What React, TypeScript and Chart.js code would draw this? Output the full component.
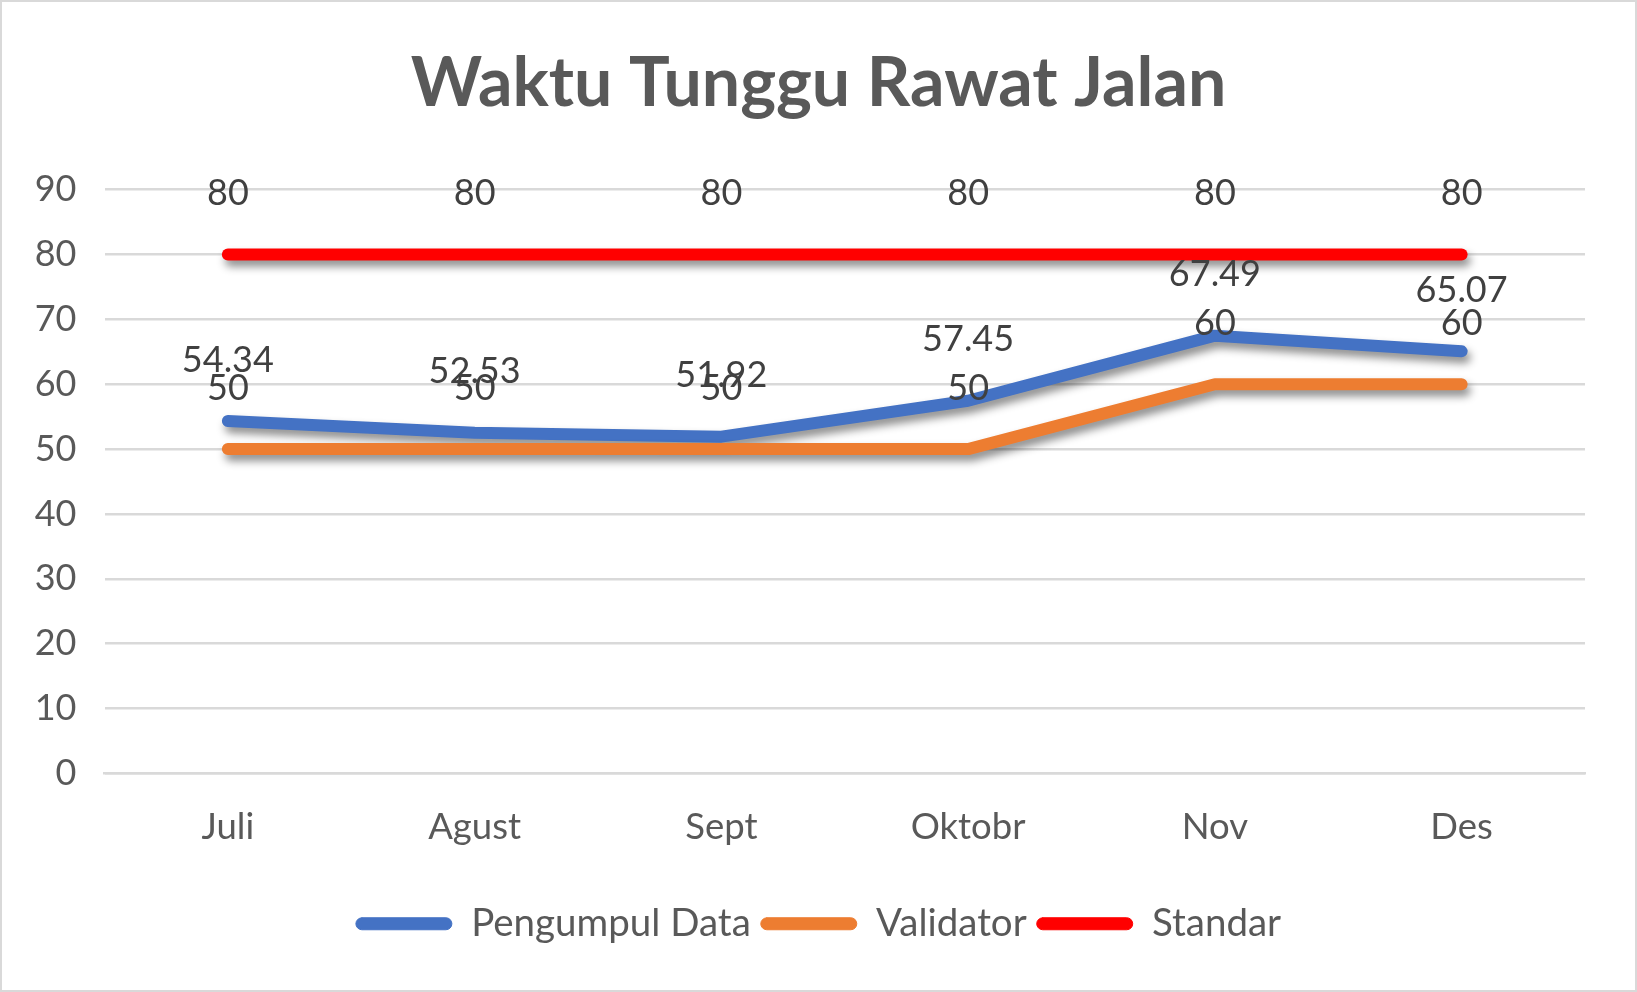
import { useEffect, useRef } from "react";
import { Chart, registerables } from "chart.js";

Chart.register(...registerables);

// data
const months = ["Juli", "Agust", "Sept", "Oktobr", "Nov", "Des"];
const pengumpulData = [54.34, 52.53, 51.92, 57.45, 67.49, 65.07];
const validator = [50, 50, 50, 50, 60, 60];
const standar = [80, 80, 80, 80, 80, 80];
const yMin = 0;
const yMax = 90;
const yStep = 10;

const FONT = "Lato, 'Open Sans', sans-serif";

// soft drop shadow under each line, like the office chart
const lineShadow = {
  id: "lineShadow",
  beforeDatasetDraw(chart: any) {
    const ctx = chart.ctx;
    ctx.save();
    ctx.shadowColor = "rgba(0,0,0,0.45)";
    ctx.shadowBlur = 9;
    ctx.shadowOffsetX = 3;
    ctx.shadowOffsetY = 6;
  },
  afterDatasetDraw(chart: any) {
    chart.ctx.restore();
  },
};

// value labels above every point
const valueLabels = {
  id: "valueLabels",
  afterDatasetsDraw(chart: any) {
    const ctx = chart.ctx;
    ctx.save();
    ctx.font = `36px ${FONT}`;
    ctx.fillStyle = "#404040";
    ctx.textAlign = "center";
    ctx.textBaseline = "middle";
    chart.data.datasets.forEach((ds: any, i: number) => {
      const meta = chart.getDatasetMeta(i);
      meta.data.forEach((pt: any, j: number) => {
        ctx.fillText(String(ds.data[j]), pt.x, pt.y - 61);
      });
    });
    ctx.restore();
  },
};

export default function App() {
  const canvasRef = useRef<HTMLCanvasElement | null>(null);

  useEffect(() => {
    document.body.style.margin = "0";
    if (!canvasRef.current) return;
    const ctx = canvasRef.current.getContext("2d");
    if (!ctx) return;

    const chart = new Chart(ctx, {
      type: "line",
      data: {
        labels: months,
        datasets: [
          {
            label: "Pengumpul Data",
            data: pengumpulData,
            borderColor: "#4472C4",
            backgroundColor: "#4472C4",
            order: 3,
          },
          {
            label: "Validator",
            data: validator,
            borderColor: "#ED7D31",
            backgroundColor: "#ED7D31",
            order: 2,
          },
          {
            label: "Standar",
            data: standar,
            borderColor: "#FF0000",
            backgroundColor: "#FF0000",
            order: 1,
          },
        ],
      },
      options: {
        responsive: false,
        animation: false,
        layout: { padding: { left: 0, right: 0, top: 0, bottom: 37 } },
        elements: {
          line: {
            borderWidth: 12,
            borderCapStyle: "round",
            borderJoinStyle: "round",
            tension: 0,
          },
          point: { radius: 0, hoverRadius: 0 },
        },
        plugins: {
          tooltip: { enabled: false },
          title: {
            display: true,
            text: "Waktu Tunggu Rawat Jalan",
            color: "#595959",
            font: { family: FONT, size: 68, weight: "bold", lineHeight: 1.2 },
            padding: { top: 41, bottom: 65 },
          },
          legend: {
            display: true,
            position: "bottom",
            labels: {
              color: "#595959",
              font: { family: FONT, size: 38.5 },
              boxWidth: 96,
              boxHeight: 12,
              padding: 10,
              useBorderRadius: true,
              borderRadius: 6,
              sort: (a: any, b: any) => a.datasetIndex - b.datasetIndex,
              generateLabels: (c: any) =>
                Chart.defaults.plugins.legend.labels
                  .generateLabels(c)
                  .map((it: any) => ({ ...it, lineWidth: 1, strokeStyle: it.fillStyle })),
            },
          },
        },
        scales: {
          x: {
            offset: true,
            grid: { display: false, drawTicks: false },
            border: { display: true, color: "#d9d9d9", width: 2.5 },
            ticks: {
              color: "#595959",
              font: { family: FONT, size: 36.5 },
              padding: 32,
              maxRotation: 0,
            },
            afterFit: (scale: any) => {
              scale.height = 121;
            },
          },
          y: {
            min: yMin,
            max: yMax,
            grid: { color: "#d9d9d9", lineWidth: 2.5, drawTicks: false },
            border: { display: false },
            ticks: {
              stepSize: yStep,
              color: "#595959",
              font: { family: FONT, size: 36 },
              padding: 28,
            },
            afterFit: (scale: any) => {
              scale.width = 102.5;
            },
          },
          // empty right-hand axis: just a blank margin so title and legend centre on the whole card
          yRight: {
            type: "linear",
            position: "right",
            min: yMin,
            max: yMax,
            grid: { display: false, drawTicks: false },
            border: { display: false },
            ticks: { display: false },
            afterFit: (scale: any) => {
              scale.width = 50;
            },
          },
        },
      },
      plugins: [lineShadow, valueLabels],
    });

    return () => {
      chart.destroy();
    };
  }, []);

  return (
    <div
      style={{
        position: "fixed",
        left: 0,
        top: 0,
        width: 1637,
        height: 992,
        boxSizing: "border-box",
        border: "2px solid #d9d9d9",
        background: "#fff",
      }}
    >
      <canvas
        ref={canvasRef}
        width={1633}
        height={988}
        style={{ display: "block", width: 1633, height: 988 }}
      />
    </div>
  );
}
